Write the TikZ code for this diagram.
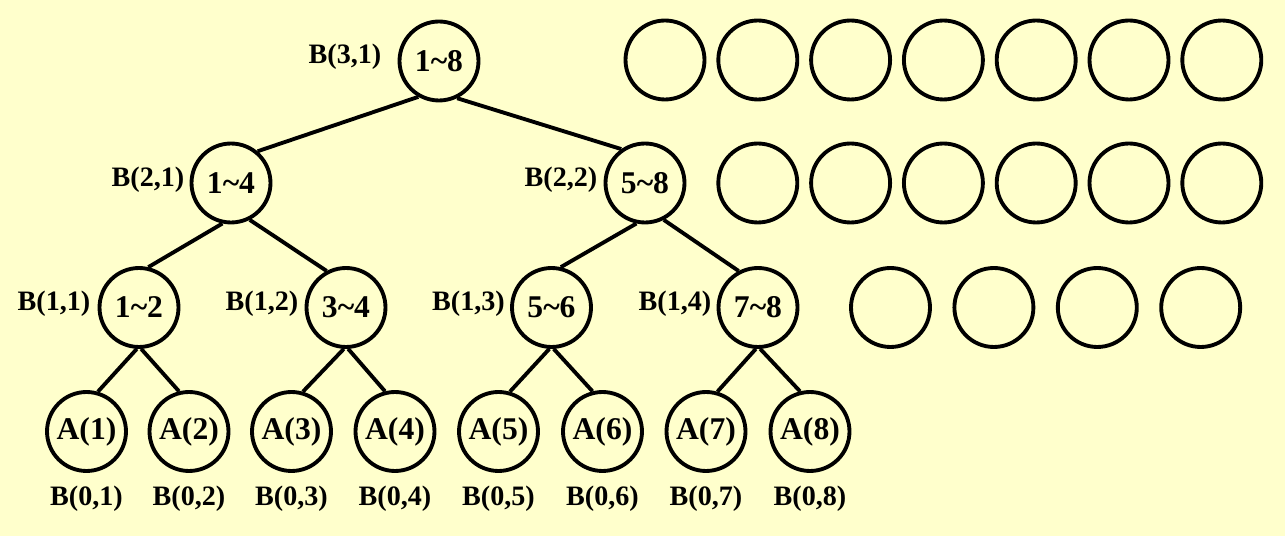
\documentclass[tikz,border=0pt]{standalone}
\usepackage{fontspec}
\setmainfont{Liberation Serif}
\definecolor{bgc}{HTML}{FFFFCC}
\begin{document}
\begin{tikzpicture}[x=0.02cm,y=-0.02cm,
  nd/.style={circle, draw, line width=2.2pt, minimum size=1.58cm, inner sep=0pt, font=\fontsize{18}{20}\selectfont\bfseries},
  lab/.style={font=\fontsize{16}{18}\selectfont\bfseries, inner sep=0pt},
  edge/.style={line width=2.2pt}]
\fill[bgc] (0,0) rectangle (1285,536);
\useasboundingbox (0,0) rectangle (1285,536);
% tree nodes
\node[nd] (r) at (439,61) {1\textasciitilde 8};
\node[nd] (b21) at (231,183) {1\textasciitilde 4};
\node[nd] (b22) at (645,183) {5\textasciitilde 8};
\node[nd] (b11) at (139,307.5) {1\textasciitilde 2};
\node[nd] (b12) at (346,307.5) {3\textasciitilde 4};
\node[nd] (b13) at (551.5,307.5) {5\textasciitilde 6};
\node[nd] (b14) at (758,307.5) {7\textasciitilde 8};
\node[nd] (a1) at (86.5,431.5) {A(1)};
\node[nd] (a2) at (189,431.5) {A(2)};
\node[nd] (a3) at (291.5,431.5) {A(3)};
\node[nd] (a4) at (395,431.5) {A(4)};
\node[nd] (a5) at (498.5,431.5) {A(5)};
\node[nd] (a6) at (602.5,431.5) {A(6)};
\node[nd] (a7) at (706,431.5) {A(7)};
\node[nd] (a8) at (810,431.5) {A(8)};
% labels
\node[lab] (l31) at (345,57) {B(3,1)};
\node[lab] (l21) at (148,180) {B(2,1)};
\node[lab] (l22) at (561,180) {B(2,2)};
\node[lab] (l11) at (54,304) {B(1,1)};
\node[lab] (l12) at (262,304) {B(1,2)};
\node[lab] (l13) at (468.5,304) {B(1,3)};
\node[lab] (l14) at (675,304) {B(1,4)};
\node[lab] (l01) at (86.5,499) {B(0,1)};
\node[lab] (l02) at (189,499) {B(0,2)};
\node[lab] (l03) at (291.5,499) {B(0,3)};
\node[lab] (l04) at (395,499) {B(0,4)};
\node[lab] (l05) at (498.5,499) {B(0,5)};
\node[lab] (l06) at (602.5,499) {B(0,6)};
\node[lab] (l07) at (706,499) {B(0,7)};
\node[lab] (l08) at (810,499) {B(0,8)};
% edges
\draw[edge] (r.240) -- (b21.50);
\draw[edge] (r.296) -- (b22.125);
\draw[edge] (b21.258) -- (b11.77);
\draw[edge] (b21.297) -- (b12.118);
\draw[edge] (b22.258) -- (b13.77);
\draw[edge] (b22.297) -- (b14.118);
\draw[edge] (b11.267) -- (a1.74);
\draw[edge] (b11.273) -- (a2.104);
\draw[edge] (b12.267) -- (a3.74);
\draw[edge] (b12.273) -- (a4.104);
\draw[edge] (b13.267) -- (a5.74);
\draw[edge] (b13.273) -- (a6.104);
\draw[edge] (b14.267) -- (a7.74);
\draw[edge] (b14.273) -- (a8.104);
% empty circles
\foreach \i in {0,...,6} \node[nd] (ea\i) at ({665+92.8*\i},60) {};
\foreach \i in {1,...,6} \node[nd] (eb\i) at ({665+92.8*\i},183) {};
\foreach \i in {0,...,3} \node[nd] (ec\i) at ({890.5+103.4*\i},307.5) {};
\end{tikzpicture}
\end{document}
